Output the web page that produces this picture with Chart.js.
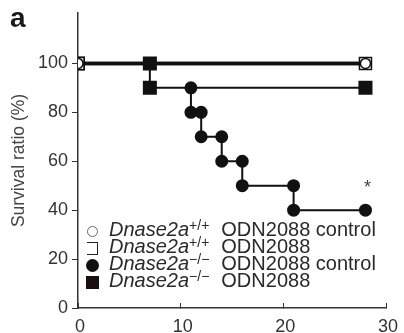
<!DOCTYPE html>
<html>
<head>
<meta charset="utf-8">
<script src="https://cdn.jsdelivr.net/npm/chart.js@4.4.1/dist/chart.umd.min.js"></script>
<style>
  body { margin: 0; background: #fff; }
  #wrap { position: relative; width: 404px; height: 333px; }
  #panel { position: absolute; left: 10px; top: 4px; font: bold 28px/28px "Liberation Sans", Arial, sans-serif; color: #1a1a1a; }
  #legend { position: absolute; left: 86px; top: 221px; font: 20px "Liberation Sans", Arial, sans-serif; color: #2a2a2a; line-height: 16.7px; }
  #legend div { white-space: nowrap; }
  #legend i { font-style: italic; }
  #legend sup { font-size: 14px; vertical-align: 6px; line-height: 0; margin-right: 12px; }
  .mk { display: inline-block; margin-right: 10px; vertical-align: -1px; box-sizing: border-box; }
  .oc { width: 11px; height: 11px; border: 1px solid #666; border-radius: 50%; margin-left: 1px; margin-right: 11px; }
  .os { width: 11px; height: 13px; border: 1.5px solid #222; border-left: none; margin-left: 1px; margin-right: 11px; vertical-align: -2px; }
  .fc { background: #111; border-radius: 50%; width: 13px; height: 13px; vertical-align: -2px; }
  .fs { background: #1a1010; width: 13px; height: 13px; vertical-align: -2px; }
</style>
</head>
<body>
<div id="wrap">
  <canvas id="survivalChart" width="404" height="333"></canvas>
  <div id="panel">a</div>
  <div id="legend">
    <div><span class="mk oc"></span><i>Dnase2a</i><sup>+/+</sup>ODN2088 control</div>
    <div><span class="mk os"></span><i>Dnase2a</i><sup>+/+</sup>ODN2088</div>
    <div><span class="mk fc"></span><i>Dnase2a</i><sup>&minus;/&minus;</sup>ODN2088 control</div>
    <div><span class="mk fs"></span><i>Dnase2a</i><sup>&minus;/&minus;</sup>ODN2088</div>
  </div>
</div>
<script>
// Survival (%) by day
const wtCtrlDays = [0, 28];
const wtCtrlSurv = [100, 100];
const wtOdnDays = [0, 28];
const wtOdnSurv = [100, 100];
const koCtrlDays = [11, 11, 12, 12, 14, 14, 16, 16, 21, 21, 28];
const koCtrlSurv = [90, 80, 80, 70, 70, 60, 60, 50, 50, 40, 40];
const koOdnDays = [0, 7, 7, 28];
const koOdnSurv = [100, 100, 90, 90];
const yTicks = [0, 20, 40, 60, 80, 100];
const xTicks = [0, 10, 20, 30];
const starPoint = { day: 28.2, value: 51 }; // significance mark

function pts(days, vals) {
    return days.map((d, i) => ({ x: d, y: vals[i] }));
}

const font = { family: '"Liberation Sans", Arial, sans-serif', size: 18 };

// asterisk above the last KO control point
const starPlugin = {
    id: 'star',
    afterDatasetsDraw(chart) {
        const c = chart.ctx;
        const x = chart.scales.x.getPixelForValue(starPoint.day);
        const y = chart.scales.y.getPixelForValue(starPoint.value);
        c.save();
        c.fillStyle = '#444';
        c.font = '18px "Liberation Sans", Arial, sans-serif';
        c.textAlign = 'center';
        c.textBaseline = 'alphabetic';
        c.fillText('*', x, y + 10);
        c.restore();
    }
};

const ctx = document.getElementById('survivalChart').getContext('2d');
new Chart(ctx, {
    type: 'line',
    data: {
        datasets: [
            {
                label: 'Dnase2a+/+ ODN2088 control',
                data: pts(wtCtrlDays, wtCtrlSurv),
                borderColor: '#111',
                backgroundColor: '#fff',
                borderWidth: 3.5,
                pointRadius: 5,
                pointBorderWidth: 1.5,
                pointStyle: 'circle'
            },
            {
                label: 'Dnase2a+/+ ODN2088',
                data: pts(wtOdnDays, wtOdnSurv),
                borderColor: '#111',
                backgroundColor: '#fff',
                borderWidth: 3.5,
                pointRadius: 8.5,
                pointBorderWidth: 1.5,
                pointStyle: 'rect'
            },
            {
                label: 'Dnase2a-/- ODN2088 control',
                data: pts(koCtrlDays, koCtrlSurv),
                borderColor: '#111',
                backgroundColor: '#111',
                borderWidth: 2,
                pointRadius: 5.5,
                pointStyle: 'circle'
            },
            {
                label: 'Dnase2a-/- ODN2088',
                data: pts(koOdnDays, koOdnSurv),
                borderColor: '#111',
                backgroundColor: '#111',
                borderWidth: 2,
                pointRadius: 8.5,
                pointStyle: 'rect'
            }
        ]
    },
    options: {
        responsive: false,
        animation: false,
        layout: { padding: { top: 13, right: 18, left: 0, bottom: 0 } },
        plugins: { legend: { display: false }, tooltip: { enabled: false } },
        scales: {
            x: {
                type: 'linear',
                min: 0,
                max: 30,
                afterBuildTicks: axis => { axis.ticks = xTicks.map(v => ({ value: v })); },
                afterFit: axis => {
                    axis.height = 25;
                    axis.paddingLeft = 0;
                    axis.paddingRight = 0;
                },
                grid: { drawOnChartArea: false, tickLength: -5, color: '#333' },
                border: { color: '#333', width: 1.5 },
                ticks: { color: '#333', font: font, padding: 13, labelOffset: 2, maxRotation: 0 }
            },
            y: {
                min: 0,
                max: 120.6,
                afterBuildTicks: axis => { axis.ticks = yTicks.map(v => ({ value: v })); },
                afterFit: axis => {
                    axis.width = 78;
                    axis.paddingTop = 0;
                    axis.paddingBottom = 0;
                },
                grid: { drawOnChartArea: false, tickLength: 6, color: '#333' },
                border: { color: '#333', width: 1.5 },
                title: {
                    display: true, text: 'Survival ratio (%)', color: '#444',
                    font: { family: font.family, size: 17.5 }, padding: { top: 9, bottom: 0 }
                },
                ticks: { color: '#333', font: font, padding: 4 }
            }
        }
    },
    plugins: [starPlugin]
});
</script>
</body>
</html>
